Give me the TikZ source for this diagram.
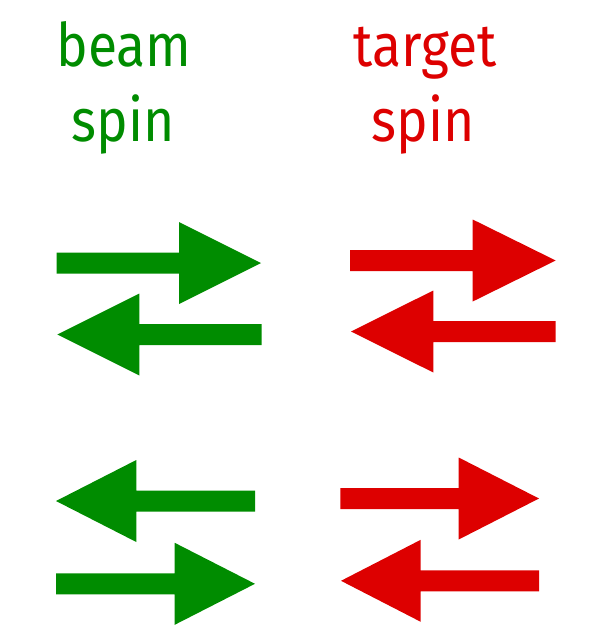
\documentclass[tikz,border=0pt]{standalone}
\usepackage{fontspec}
\setmainfont{Fira Sans}
\definecolor{beamgreen}{RGB}{0,140,0}
\definecolor{targetred}{RGB}{221,0,0}
\newcommand{\spinarrow}[5]{% colour, tail x, head base x, tip x, centre y
  \fill[#1] (#2,#5-10.5) -- (#3,#5-10.5) -- (#3,#5-41) -- (#4,#5) -- (#3,#5+41) -- (#3,#5+10.5) -- (#2,#5+10.5) -- cycle;}
\begin{document}
\begin{tikzpicture}[x=1pt,y=-1pt,
  lbl/.style={anchor=base,inner sep=0pt,font=\fontsize{60}{60}\selectfont,xscale=0.89,transform shape}]
\useasboundingbox (0,0) rectangle (589,635);
\node[lbl,text=beamgreen] (beam) at (124,66.7) {beam};
\node[lbl,text=beamgreen] (bspin) at (123.3,141.7) {spin};
\node[lbl,text=targetred] (target) at (425.5,66.7) {target};
\node[lbl,text=targetred] (tspin) at (423,141.7) {spin};
% upper pair
\spinarrow{beamgreen}{56.7}{179}{261}{263}
\spinarrow{beamgreen}{261.7}{139.3}{57.3}{334.5}
\spinarrow{targetred}{350}{472.7}{555.7}{260.5}
\spinarrow{targetred}{555.7}{433.3}{351}{331.5}
% lower pair
\spinarrow{beamgreen}{255}{136.3}{56}{501}
\spinarrow{beamgreen}{56}{174.7}{255}{583.8}
\spinarrow{targetred}{340.3}{458.7}{539}{498.5}
\spinarrow{targetred}{539}{420.7}{341}{580.8}
\end{tikzpicture}
\end{document}
